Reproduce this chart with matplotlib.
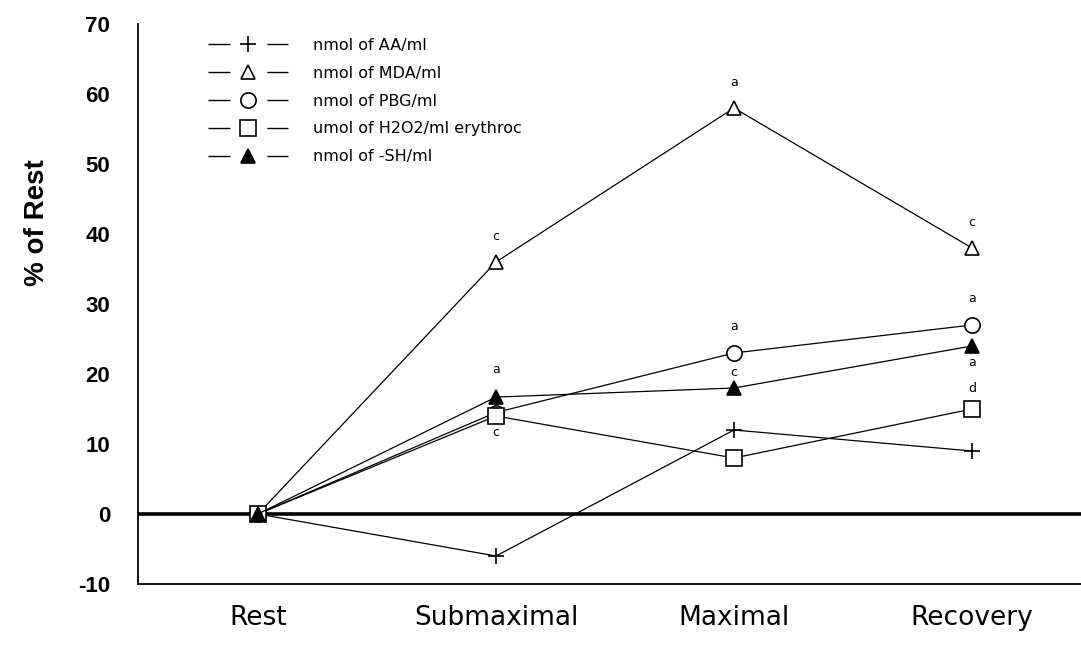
import matplotlib
matplotlib.use("Agg")
import matplotlib.pyplot as plt
from matplotlib.lines import Line2D

# data (% of rest)
phases = ['Rest', 'Submaximal', 'Maximal', 'Recovery']
aa = [0, -6, 12, 9]
mda = [0, 36, 58, 38]
pbg = [0, 14.5, 23, 27]
h2o2 = [0, 14, 8, 15]
sh = [0, 16.7, 18, 24]

series_labels = ['nmol of AA/ml', 'nmol of MDA/ml', 'nmol of PBG/ml',
                 'umol of H2O2/ml erythroc', 'nmol of -SH/ml']

# significance letters: (series, phase index, letter, offset in px)
letters = [
    ('mda', 1, 'c', 26), ('sh', 1, 'a', 28), ('h2o2', 1, 'c', -17),
    ('mda', 2, 'a', 25), ('pbg', 2, 'a', 27), ('sh', 2, 'c', 15),
    ('mda', 3, 'c', 26), ('pbg', 3, 'a', 26), ('sh', 3, 'a', -17),
    ('h2o2', 3, 'd', 20),
]

x = list(range(len(phases)))
series = {'aa': aa, 'mda': mda, 'pbg': pbg, 'h2o2': h2o2, 'sh': sh}

fig = plt.figure(figsize=(10.81, 6.45), dpi=100)
ax = fig.add_axes([138 / 1081, 61 / 645, 943 / 1081, 560 / 645])

styles = {
    'aa': dict(marker='+', ms=11, mew=1.2, mfc='black'),
    'mda': dict(marker='^', ms=10, mew=1.2, mfc='white'),
    'pbg': dict(marker='o', ms=11, mew=1.2, mfc='white'),
    'h2o2': dict(marker='s', ms=11, mew=1.2, mfc='white'),
    'sh': dict(marker='^', ms=10, mew=1.2, mfc='black'),
}

# zero reference line
ax.axhline(0, color='black', lw=2.6, zorder=2)

for key in ['aa', 'mda', 'pbg', 'h2o2', 'sh']:
    ax.plot(x, series[key], color='black', lw=0.9, mec='black', zorder=3, **styles[key])

for key, i, txt, off in letters:
    ax.annotate(txt, (x[i], series[key][i]), xytext=(0, off * 0.72),
                textcoords='offset points', ha='center', va='center', fontsize=9)

ax.set_xlim(-0.504, 3.458)
ax.set_ylim(-10, 70)

ax.spines['top'].set_visible(False)
ax.spines['right'].set_visible(False)
ax.spines['left'].set_linewidth(1.3)
ax.spines['bottom'].set_linewidth(1.3)

ax.set_yticks(range(-10, 71, 10))
ax.set_yticklabels([str(v) for v in range(-10, 71, 10)],
                   fontfamily='Liberation Sans', fontweight='bold', fontsize=16)
ax.set_yticks([10, 30, 60], minor=True)
ax.tick_params(axis='y', which='major', length=0, pad=20)
ax.tick_params(axis='y', which='minor', length=10.5, width=1, direction='in')

ax.set_xticks(x)
ax.set_xticklabels(phases, fontsize=19)
ax.set_xticks(x[1:], minor=True)
ax.tick_params(axis='x', which='major', length=0, pad=15)
ax.tick_params(axis='x', which='minor', length=8, width=1, direction='in')

ax.set_ylabel('% of Rest', fontfamily='Liberation Sans', fontweight='bold', fontsize=20)
ax.yaxis.set_label_coords(-0.093, 0.646)

# legend: line - marker - line
handles = []
for key in ['aa', 'mda', 'pbg', 'h2o2', 'sh']:
    h = Line2D([], [], color='black', lw=1.0, mec='black', **styles[key])
    h.set_dashes((15.8, 26.6))
    handles.append(h)
ax.legend(handles, series_labels, loc='upper left', frameon=False,
          bbox_to_anchor=(208 / 1081, 1 - 38 / 645), bbox_transform=fig.transFigure,
          borderpad=0, borderaxespad=0, handlelength=5.0, handletextpad=1.57,
          labelspacing=0.8, fontsize=11.5)

fig.savefig('out.png', dpi=100)
